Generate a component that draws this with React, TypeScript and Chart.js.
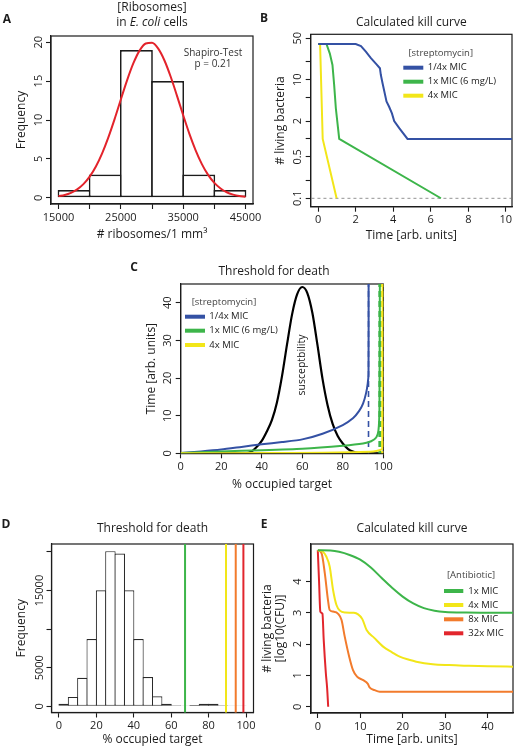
import React, { useEffect, useRef } from 'react';
import { Chart, registerables } from 'chart.js';

Chart.register(...registerables);

const PAGE_W = 516;
const PAGE_H = 750;
const FAM = "'Open Sans', sans-serif";
const INK = '#1c1c1c';
const BLUE = '#3451a4';
const GREEN = '#3db54a';
const YELLOW = '#f2e619';
const ORANGE = '#f27b2c';
const RED = '#e2262d';
const FIT_RED = '#e3232b';

// ---------------- Panel A data ----------------
const A_BIN_CENTERS = [17500, 22500, 27500, 32500, 37500, 42500];
const A_COUNTS = [1, 3, 19, 15, 3, 1];
const A_FIT_X = [15000, 16000, 17000, 18000, 19000, 20000, 21000, 22000, 23000, 24000, 25000, 26000, 27000, 28000, 29000, 30000, 31000, 32000, 33000, 34000, 35000, 36000, 37000, 38000, 39000, 40000, 41000, 42000, 43000, 44000, 45000];
const A_FIT_Y = [0.2, 0.36, 0.64, 1.08, 1.75, 2.71, 4.02, 5.71, 7.77, 10.12, 12.64, 15.1, 17.27, 18.92, 19.84, 19.93, 19.17, 17.65, 15.56, 13.14, 10.62, 8.22, 6.1, 4.33, 2.94, 1.91, 1.19, 0.71, 0.41, 0.22, 0.12];
const A_X_TICKS = [15000, 20000, 25000, 30000, 35000, 40000, 45000];
const A_X_LABELS = [15000, 25000, 35000, 45000];
const A_Y_TICKS = [0, 5, 10, 15, 20];

// ---------------- Panel B data ----------------
const B_BLUE_X = [0, 2.0, 2.28, 2.54, 2.81, 3.11, 3.29, 3.34, 3.43, 3.64, 3.78, 3.93, 4.05, 4.32, 4.76, 10.4];
const B_BLUE_Y = [40, 40, 37, 29.7, 23.1, 18.2, 15.6, 12, 8.7, 4.3, 3.5, 2.7, 2.0, 1.52, 1.0, 1.0];
const B_GREEN_X = [0, 0.44, 0.62, 0.76, 0.85, 0.94, 1.12, 6.54];
const B_GREEN_Y = [40, 40, 27.6, 17.7, 8.2, 3.3, 1.0, 0.1];
const B_YELLOW_X = [0, 0.1, 0.24, 0.98];
const B_YELLOW_Y = [40, 40, 1.0, 0.1];
const B_LIMIT_X = [-1, 11];
const B_LIMIT_Y = [0.1, 0.1];
const B_X_TICKS = [0, 2, 4, 6, 8, 10];
const B_Y_TICKS = [0.1, 0.2, 0.5, 1, 2, 5, 10, 20, 50];
const B_Y_LABELS = [0.1, 0.5, 2, 10, 50];

// ---------------- Panel C data ----------------
const C_SUSC_X = [0, 32, 35, 37, 40, 42.5, 45, 47.5, 50, 52.5, 55, 57.5, 60, 62.5, 65, 67.5, 70, 72.5, 75, 77.5, 80, 82.5, 85, 88, 91, 100];
const C_SUSC_Y = [0, 0, 0.5, 1.4, 3.3, 5.8, 8.8, 13.5, 20.5, 29, 37, 42.3, 44.2, 42.6, 37.3, 28.8, 19.8, 12.8, 7.8, 4.6, 2.6, 1.2, 0.45, 0.1, 0, 0];
const C_BLUE_X = [0, 10, 20, 30, 40, 50, 60, 70, 80, 85, 88, 90, 91.5, 92.3, 92.7, 92.75];
const C_BLUE_Y = [0.1, 0.5, 1.0, 1.7, 2.4, 3.0, 3.7, 5.2, 7.5, 9.3, 11.2, 13.2, 16.0, 18.5, 21, 46];
const C_GREEN_X = [0, 20, 40, 60, 80, 90, 94, 96.5, 97.6, 98.1, 98.3];
const C_GREEN_Y = [0.1, 0.5, 0.8, 1.2, 2.0, 2.6, 3.2, 4.2, 6.0, 12, 46];
const C_YELLOW_X = [0, 40, 70, 85, 95, 98, 99.5, 99.7];
const C_YELLOW_Y = [0, 0.05, 0.15, 0.3, 0.5, 0.8, 1.3, 46];
const C_THRESH = [92.7, 98.3, 99.7];
const C_X_TICKS = [0, 20, 40, 60, 80, 100];
const C_Y_TICKS = [0, 10, 20, 30, 40];

// ---------------- Panel D data ----------------
const D_BIN_CENTERS = [2.5, 7.5, 12.5, 17.5, 22.5, 27.5, 32.5, 37.5, 42.5, 47.5, 52.5, 57.5, 62.5, 67.5, 72.5, 77.5, 82.5, 87.5, 92.5, 97.5];
const D_COUNTS = [340, 1200, 3690, 8710, 15020, 20090, 19790, 15020, 8710, 3780, 1290, 340, 130, 40, 170, 340, 340, 130, 90, 40];
const D_THRESH = [67.4, 89.3, 94.5, 98.6];
const D_THRESH_COLORS = [GREEN, YELLOW, ORANGE, RED];
const D_X_TICKS = [0, 20, 40, 60, 80, 100];
const D_Y_TICKS = [0, 5000, 10000, 15000, 20000];
const D_Y_LABELS = [0, 5000, 15000];

// ---------------- Panel E data ----------------
const E_GREEN_X = [0, 3, 5, 7.5, 10, 12.5, 15, 17.5, 20, 22.5, 25, 27.5, 30, 35, 47];
const E_GREEN_Y = [5.0, 4.99, 4.95, 4.85, 4.7, 4.45, 4.12, 3.8, 3.52, 3.3, 3.15, 3.07, 3.03, 3.01, 3.0];
const E_YELLOW_X = [0, 1.2, 2.0, 2.8, 3.6, 4.4, 5.2, 6.5, 8.5, 9.5, 10.5, 11.5, 13.3, 15.4, 17.5, 19.3, 21.5, 23.2, 27.1, 31, 35, 40, 47];
const E_YELLOW_Y = [5.0, 4.95, 4.8, 4.48, 3.73, 3.25, 3.07, 3.01, 3.0, 2.95, 2.8, 2.45, 2.2, 1.92, 1.74, 1.6, 1.5, 1.44, 1.36, 1.33, 1.31, 1.29, 1.28];
const E_ORANGE_X = [0, 0.9, 1.65, 2.4, 2.8, 3.6, 4.8, 5.6, 6.35, 7.4, 8.3, 9.25, 10.7, 11.8, 12.2, 13.4, 14.6, 47];
const E_ORANGE_Y = [5.0, 4.9, 4.27, 3.41, 3.09, 3.04, 2.97, 2.77, 2.24, 1.6, 1.17, 0.96, 0.85, 0.73, 0.62, 0.53, 0.48, 0.48];
const E_RED_X = [0, 0.3, 0.6, 1.1, 1.4, 1.9, 2.2, 2.45];
const E_RED_Y = [5.0, 4.0, 3.04, 2.97, 2.13, 1.07, 0.6, 0.0];
const E_X_TICKS = [0, 10, 20, 30, 40];
const E_Y_TICKS = [0, 1, 2, 3, 4];

// ---------------- helpers ----------------
type Box = { l: number; t: number; r: number; b: number };
type Part = { t: string; italic?: boolean };
type TextItem = { parts: string | Part[]; x: number; y: number; size: number; color?: string; align?: 'left' | 'center' | 'right'; rotate?: number; bold?: boolean };
type LegendSpec = { title: string; titleX: number; titleY: number; sx0: number; sx1: number; tx: number; ys: number[]; items: { label: string; color: string }[] };

let mctx: CanvasRenderingContext2D | null = null;
function widest(labels: string[], font: string) {
  if (!mctx) mctx = document.createElement('canvas').getContext('2d');
  mctx!.font = font;
  return Math.max(0, ...labels.map((l) => mctx!.measureText(l).width));
}

const TICK_LEN = 5;
const TICK_SIZE = 11;

function xAxis(o: { min: number; max: number; ticks: number[]; shown?: number[]; title: string; h: number; titleDist: number; labelPad?: number }) {
  const lh = 12 * 1.2;
  return {
    type: 'linear', position: 'bottom', min: o.min, max: o.max, offset: false,
    afterBuildTicks: (s: any) => { s.ticks = o.ticks.map((v) => ({ value: v })); },
    afterFit: (s: any) => { s.height = o.h; s.paddingLeft = 0; s.paddingRight = 0; },
    ticks: {
      autoSkip: false, minRotation: 0, maxRotation: 0, padding: o.labelPad ?? 2, color: INK,
      font: { family: FAM, size: TICK_SIZE },
      callback: (v: number) => (!o.shown || o.shown.includes(v) ? String(v) : ''),
    },
    grid: { drawOnChartArea: false, drawTicks: true, tickLength: TICK_LEN, tickWidth: 1.1, tickColor: INK, offset: false },
    border: { display: true, color: INK, width: 1.2 },
    title: { display: true, text: o.title, color: INK, font: { family: FAM, size: 12, lineHeight: 1.2 }, padding: { top: 0, bottom: o.h - o.titleDist - lh / 2 } },
  };
}

function yAxis(o: { type?: string; min: number; max: number; ticks: number[]; shown?: number[]; title?: string; w: number; titleDist: number; labelDist: number }) {
  const labels = o.ticks.filter((v) => !o.shown || o.shown.includes(v)).map(String);
  const wd = widest(labels, `${TICK_SIZE}px ${FAM}`);
  const lh = 12 * 1.2;
  return {
    type: o.type ?? 'linear', position: 'left', min: o.min, max: o.max, offset: false,
    afterBuildTicks: (s: any) => { s.ticks = o.ticks.map((v) => ({ value: v })); },
    afterFit: (s: any) => { s.width = o.w; s.paddingTop = 0; s.paddingBottom = 0; },
    ticks: {
      autoSkip: false, minRotation: 90, maxRotation: 90, crossAlign: 'center',
      padding: o.labelDist - TICK_LEN - wd / 2, color: INK,
      font: { family: FAM, size: TICK_SIZE },
      callback: (v: number) => (!o.shown || o.shown.includes(v) ? String(v) : ''),
    },
    grid: { drawOnChartArea: false, drawTicks: true, tickLength: TICK_LEN, tickWidth: 1.1, tickColor: INK },
    border: { display: true, color: INK, width: 1.2 },
    title: { display: !!o.title, text: o.title ?? '', color: INK, font: { family: FAM, size: 12, lineHeight: 1.2 }, padding: { top: o.w - o.titleDist - lh / 2, bottom: 0 } },
  };
}

function line(xs: number[], ys: number[], color: string, width: number, extra: any = {}) {
  return {
    type: 'line', data: xs.map((x, i) => ({ x, y: ys[i] })), borderColor: color, backgroundColor: color,
    borderWidth: width, pointRadius: 0, fill: false, tension: 0, ...extra,
  };
}

function vline(x: number, yRange: number[], color: string, width: number, extra: any = {}) {
  return line([x, x], yRange, color, width, extra);
}

function drawText(ctx: CanvasRenderingContext2D, it: TextItem) {
  ctx.save();
  ctx.translate(it.x, it.y);
  if (it.rotate) ctx.rotate(it.rotate);
  const parts: Part[] = typeof it.parts === 'string' ? [{ t: it.parts }] : it.parts;
  const fontFor = (p: Part) => `${p.italic ? 'italic ' : ''}${it.bold ? 'bold ' : ''}${it.size}px ${FAM}`;
  let total = 0;
  const ws = parts.map((p) => { ctx.font = fontFor(p); const w = ctx.measureText(p.t).width; total += w; return w; });
  let x = it.align === 'left' ? 0 : it.align === 'right' ? -total : -total / 2;
  ctx.fillStyle = it.color || INK;
  ctx.textBaseline = 'middle';
  ctx.textAlign = 'left';
  parts.forEach((p, i) => { ctx.font = fontFor(p); ctx.fillText(p.t, x, 0); x += ws[i]; });
  ctx.restore();
}

function panelPlugin(texts: TextItem[], legend?: LegendSpec) {
  return {
    id: 'panelDecor',
    beforeDatasetsDraw(chart: any) {
      const { ctx, chartArea: a } = chart;
      ctx.save();
      ctx.strokeStyle = INK;
      ctx.lineWidth = 1.2;
      ctx.strokeRect(a.left, a.top, a.right - a.left, a.bottom - a.top);
      ctx.restore();
    },
    afterDraw(chart: any) {
      const ctx: CanvasRenderingContext2D = chart.ctx;
      texts.forEach((t) => drawText(ctx, t));
      if (legend) {
        drawText(ctx, { parts: legend.title, x: legend.titleX, y: legend.titleY, size: 9.5, color: '#444' });
        legend.items.forEach((it, i) => {
          ctx.save();
          ctx.strokeStyle = it.color;
          ctx.lineWidth = 4;
          ctx.beginPath();
          ctx.moveTo(legend.sx0, legend.ys[i]);
          ctx.lineTo(legend.sx1, legend.ys[i]);
          ctx.stroke();
          ctx.restore();
          drawText(ctx, { parts: it.label, x: legend.tx, y: legend.ys[i], size: 9.5, align: 'left', color: '#222' });
        });
      }
    },
  };
}

function makeChart(canvas: HTMLCanvasElement, o: { type: string; box: Box; yW: number; xH: number; datasets: any[]; x: any; y: any; texts: TextItem[]; legend?: LegendSpec }) {
  return new Chart(canvas, {
    type: o.type as any,
    data: { datasets: o.datasets },
    options: {
      animation: false,
      responsive: false,
      devicePixelRatio: 1,
      events: [],
      layout: { padding: { left: o.box.l - o.yW, top: o.box.t, right: PAGE_W - o.box.r, bottom: PAGE_H - o.box.b - o.xH } },
      plugins: { legend: { display: false }, tooltip: { enabled: false }, title: { display: false } },
      scales: { x: o.x, y: o.y },
    } as any,
    plugins: [panelPlugin(o.texts, o.legend)],
  });
}

function barWidthPct(binW: number, box: Box, min: number, max: number, bw: number) {
  const px = (binW * (box.r - box.l)) / (max - min);
  return (px + bw) / px;
}

// ---------------- panels ----------------
function buildA(c: HTMLCanvasElement) {
  const box = { l: 51, t: 36, r: 253, b: 204 };
  const xmin = 13800, xmax = 46200;
  return makeChart(c, {
    type: 'bar', box, yW: 40, xH: 40,
    x: xAxis({ min: xmin, max: xmax, ticks: A_X_TICKS, shown: A_X_LABELS, title: '# ribosomes/1 mm³', h: 40, titleDist: 31 }),
    y: yAxis({ min: -0.8, max: 20.8, ticks: A_Y_TICKS, title: 'Frequency', w: 40, titleDist: 29, labelDist: 12 }),
    datasets: [
      line(A_FIT_X, A_FIT_Y, FIT_RED, 2, { cubicInterpolationMode: 'monotone', order: 0 }),
      {
        type: 'bar', data: A_BIN_CENTERS.map((x, i) => ({ x, y: A_COUNTS[i] })),
        backgroundColor: '#ffffff', borderColor: INK, borderWidth: 1.7, borderSkipped: false,
        barPercentage: barWidthPct(5000, box, xmin, xmax, 1.7), categoryPercentage: 1, inflateAmount: 0, order: 1,
      },
    ],
    texts: [
      { parts: 'A', x: 7, y: 20, size: 12, bold: true },
      { parts: '[Ribosomes]', x: 152, y: 8, size: 12 },
      { parts: [{ t: 'in ' }, { t: 'E. coli', italic: true }, { t: ' cells' }], x: 152, y: 23, size: 12 },
      { parts: 'Shapiro-Test', x: 213, y: 53, size: 10, color: '#333' },
      { parts: 'p = 0.21', x: 213, y: 64, size: 10, color: '#333' },
    ],
  });
}

function buildB(c: HTMLCanvasElement) {
  const box = { l: 310.7, t: 34.3, r: 512, b: 206.7 };
  return makeChart(c, {
    type: 'line', box, yW: 40, xH: 40,
    x: xAxis({ min: -0.4, max: 10.33, ticks: B_X_TICKS, title: 'Time [arb. units]', h: 40, titleDist: 28.5 }),
    y: yAxis({ type: 'logarithmic', min: 0.072, max: 58.4, ticks: B_Y_TICKS, shown: B_Y_LABELS, title: '# living bacteria', w: 40, titleDist: 30.5, labelDist: 12.7 }),
    datasets: [
      line(B_BLUE_X, B_BLUE_Y, BLUE, 2),
      line(B_GREEN_X, B_GREEN_Y, GREEN, 2),
      line(B_YELLOW_X, B_YELLOW_Y, YELLOW, 2),
      line(B_LIMIT_X, B_LIMIT_Y, '#777', 0.8, { borderDash: [3, 3], order: 5 }),
    ],
    texts: [
      { parts: 'B', x: 264, y: 19, size: 12, bold: true },
      { parts: 'Calculated kill curve', x: (box.l + box.r) / 2, y: 23, size: 12 },
    ],
    legend: {
      title: '[streptomycin]', titleX: 440.7, titleY: 53.3, sx0: 403.3, sx1: 423.3, tx: 427.7, ys: [67.7, 81.7, 95.7],
      items: [{ label: '1/4x MIC', color: BLUE }, { label: '1x MIC (6 mg/L)', color: GREEN }, { label: '4x MIC', color: YELLOW }],
    },
  });
}

function buildC(c: HTMLCanvasElement) {
  const box = { l: 180.7, t: 284, r: 383.3, b: 453.3 };
  const full = [-1, 46];
  return makeChart(c, {
    type: 'line', box, yW: 40, xH: 40,
    x: xAxis({ min: 0, max: 100, ticks: C_X_TICKS, title: '% occupied target', h: 40, titleDist: 31.5 }),
    y: yAxis({ min: 0, max: 45, ticks: C_Y_TICKS, title: 'Time [arb. units]', w: 40, titleDist: 28.7, labelDist: 12.5 }),
    datasets: [
      vline(C_THRESH[2], full, YELLOW, 3, { borderDash: [6, 4], order: 1 }),
      line(C_YELLOW_X, C_YELLOW_Y, YELLOW, 2, { tension: 0.2, order: 2 }),
      vline(C_THRESH[1], full, GREEN, 3, { borderDash: [6, 4], order: 3 }),
      line(C_GREEN_X, C_GREEN_Y, GREEN, 2, { tension: 0.2, order: 4 }),
      vline(C_THRESH[0], full, BLUE, 1.6, { borderDash: [6, 4], order: 5 }),
      line(C_BLUE_X, C_BLUE_Y, BLUE, 2, { tension: 0.2, order: 6 }),
      line(C_SUSC_X, C_SUSC_Y, '#000000', 2.2, { cubicInterpolationMode: 'monotone', order: 7 }),
    ],
    texts: [
      { parts: 'C', x: 134, y: 268, size: 12, bold: true },
      { parts: 'Threshold for death', x: 274, y: 272, size: 12 },
      { parts: 'susceptbility', x: 302, y: 365, size: 10.5, rotate: -Math.PI / 2 },
    ],
    legend: {
      title: '[streptomycin]', titleX: 224, titleY: 302, sx0: 185, sx1: 205, tx: 209.3, ys: [316.7, 330.7, 345],
      items: [{ label: '1/4x MIC', color: BLUE }, { label: '1x MIC (6 mg/L)', color: GREEN }, { label: '4x MIC', color: YELLOW }],
    },
  });
}

function buildD(c: HTMLCanvasElement) {
  const box = { l: 51.5, t: 544, r: 253.5, b: 712.5 };
  const xmin = -4, xmax = 104;
  const full = [-2000, 23000];
  return makeChart(c, {
    type: 'bar', box, yW: 40, xH: 36,
    x: xAxis({ min: xmin, max: xmax, ticks: D_X_TICKS, title: '% occupied target', h: 36, titleDist: 27.5 }),
    y: yAxis({ min: -810, max: 21030, ticks: D_Y_TICKS, shown: D_Y_LABELS, title: 'Frequency', w: 40, titleDist: 29.5, labelDist: 12 }),
    datasets: [
      ...D_THRESH.map((t, i) => vline(t, full, D_THRESH_COLORS[i], 2, { order: i })),
      {
        type: 'bar', data: D_BIN_CENTERS.map((x, i) => ({ x, y: D_COUNTS[i] })),
        backgroundColor: '#ffffff', borderColor: '#2a2a2a', borderWidth: 1.1, borderSkipped: false,
        barPercentage: barWidthPct(5, box, xmin, xmax, 1.1), categoryPercentage: 1, inflateAmount: 0, order: 10,
      },
    ],
    texts: [
      { parts: 'D', x: 6, y: 525, size: 12, bold: true },
      { parts: 'Threshold for death', x: (box.l + box.r) / 2, y: 529, size: 12 },
    ],
  });
}

function buildE(c: HTMLCanvasElement) {
  const box = { l: 311, t: 544, r: 513, b: 713 };
  const midY = (box.t + box.b) / 2;
  return makeChart(c, {
    type: 'line', box, yW: 50, xH: 36,
    x: xAxis({ min: -1.6, max: 46, ticks: E_X_TICKS, title: 'Time [arb. units]', h: 36, titleDist: 27 }),
    y: yAxis({ min: -0.2, max: 5.2, ticks: E_Y_TICKS, w: 50, titleDist: 43, labelDist: 13 }),
    datasets: [
      line(E_GREEN_X, E_GREEN_Y, GREEN, 2, { cubicInterpolationMode: 'monotone' }),
      line(E_YELLOW_X, E_YELLOW_Y, YELLOW, 2, { cubicInterpolationMode: 'monotone' }),
      line(E_ORANGE_X, E_ORANGE_Y, ORANGE, 2, { cubicInterpolationMode: 'monotone' }),
      line(E_RED_X, E_RED_Y, RED, 2, { cubicInterpolationMode: 'monotone' }),
    ],
    texts: [
      { parts: 'E', x: 264, y: 525, size: 12, bold: true },
      { parts: 'Calculated kill curve', x: (box.l + box.r) / 2, y: 529, size: 12 },
      { parts: '# living bacteria', x: box.l - 43, y: midY, size: 12, rotate: -Math.PI / 2 },
      { parts: '[log10(CFU)]', x: box.l - 30, y: midY, size: 12, rotate: -Math.PI / 2 },
    ],
    legend: {
      title: '[Antibiotic]', titleX: 471, titleY: 575, sx0: 444, sx1: 463.3, tx: 468.3, ys: [591, 605, 619.3, 633.3],
      items: [{ label: '1x MIC', color: GREEN }, { label: '4x MIC', color: YELLOW }, { label: '8x MIC', color: ORANGE }, { label: '32x MIC', color: RED }],
    },
  });
}

export default function App() {
  const refs = [useRef<HTMLCanvasElement>(null), useRef<HTMLCanvasElement>(null), useRef<HTMLCanvasElement>(null), useRef<HTMLCanvasElement>(null), useRef<HTMLCanvasElement>(null)];
  useEffect(() => {
    const builders = [buildA, buildB, buildC, buildD, buildE];
    const charts = builders.map((b, i) => b(refs[i].current!));
    return () => charts.forEach((ch) => ch.destroy());
  }, []);
  return (
    <div style={{ position: 'absolute', left: 0, top: 0, width: PAGE_W, height: PAGE_H, background: '#fff', overflow: 'hidden' }}>
      {refs.map((r, i) => (
        <canvas key={i} ref={r} width={PAGE_W} height={PAGE_H} style={{ position: 'absolute', left: 0, top: 0, width: PAGE_W, height: PAGE_H, pointerEvents: 'none' }} />
      ))}
    </div>
  );
}
